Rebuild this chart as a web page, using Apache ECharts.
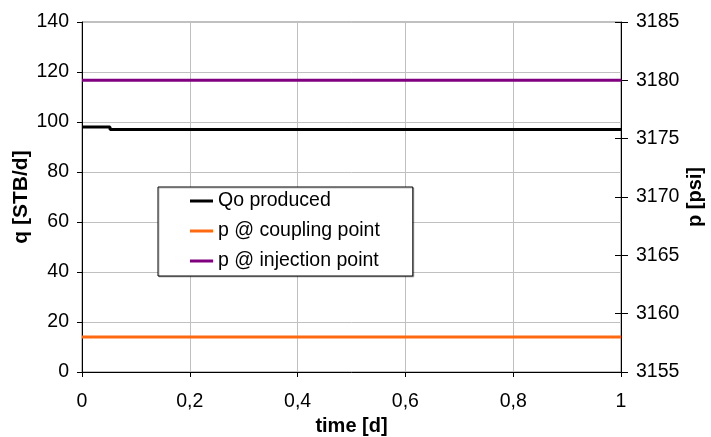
<!DOCTYPE html>
<html>
<head>
<meta charset="utf-8">
<script src="https://cdn.jsdelivr.net/npm/echarts@6/dist/echarts.min.js"></script>
<style>
  html, body { margin: 0; padding: 0; background: #fff; }
  #chart { width: 711px; height: 437px; }
</style>
</head>
<body>
<div id="chart"></div>
<script>
// Time axis [d]
const timeTicks = [0, 0.2, 0.4, 0.6, 0.8, 1];

// Oil rate produced [STB/d] – small step down early on
const qoTime = [0, 0.052, 0.052, 1];
const qoRate = [98, 98, 97, 97];

// Pressures [psi]
const pCouplingTime = [0, 1];
const pCoupling = [3158, 3158];
const pInjectionTime = [0, 1];
const pInjection = [3180, 3180];

const zip = (xs, ys) => xs.map((x, i) => [x, ys[i]]);

const FONT = 'Liberation Sans, Arial, sans-serif';
const chart = echarts.init(document.getElementById('chart'), null, { renderer: 'canvas' });

const axisText = { color: '#000', fontFamily: FONT, fontSize: 19.5 };
const titleText = { color: '#000', fontFamily: FONT, fontSize: 20, fontWeight: 'bold' };

chart.setOption({
  animation: false,
  backgroundColor: '#fff',
  grid: {
    left: 82, right: 90, top: 22, bottom: 65,
    containLabel: false, outerBoundsMode: 'none',
    show: true, borderColor: '#808080', borderWidth: 1
  },
  legend: {
    orient: 'vertical',
    left: 158, top: 187,
    padding: [4, 33, 5, 32],
    itemGap: 10,
    itemWidth: 23, itemHeight: 3,
    icon: 'rect',
    borderColor: '#000', borderWidth: 1,
    backgroundColor: '#fff',
    shadowColor: 'rgba(0,0,0,0.25)', shadowOffsetX: 1, shadowOffsetY: 1,
    textStyle: { color: '#000', fontFamily: FONT, fontSize: 19.5, lineHeight: 20 },
    data: ['Qo produced', 'p @ coupling point', 'p @ injection point']
  },
  xAxis: {
    type: 'value', min: 0, max: 1, interval: 0.2,
    name: 'time [d]', nameLocation: 'middle', nameGap: 44, nameMoveOverlap: false,
    nameTextStyle: titleText,
    axisLine: { lineStyle: { color: '#000', width: 1 } },
    axisTick: { show: true, length: 5, lineStyle: { color: '#000' } },
    axisLabel: Object.assign({ margin: 20, formatter: v => String(v).replace('.', ',') }, axisText),
    splitLine: { show: true, lineStyle: { color: '#c0c0c0', width: 1 } }
  },
  yAxis: [
    {
      type: 'value', min: 0, max: 140, interval: 20, position: 'left',
      name: 'q [STB/d]', nameLocation: 'middle', nameGap: 50, nameRotate: 90, nameMoveOverlap: false,
      nameTextStyle: Object.assign({}, titleText, { fontSize: 21 }),
      axisLine: { show: true, lineStyle: { color: '#000', width: 1 } },
      axisTick: { show: true, length: 5, lineStyle: { color: '#000' } },
      axisLabel: Object.assign({ margin: 13 }, axisText),
      splitLine: { show: true, lineStyle: { color: '#c0c0c0', width: 1 } }
    },
    {
      type: 'value', min: 3155, max: 3185, interval: 5, position: 'right',
      name: 'p [psi]', nameLocation: 'middle', nameGap: 64, nameRotate: 90, nameMoveOverlap: false,
      nameTextStyle: titleText,
      axisLine: { show: true, lineStyle: { color: '#000', width: 1 } },
      axisTick: { show: true, length: 7, lineStyle: { color: '#000' } },
      axisLabel: Object.assign({ margin: 15, formatter: v => String(v) }, axisText),
      splitLine: { show: false }
    },
    {
      // inner half of the crossing ticks on the pressure axis
      type: 'value', min: 3155, max: 3185, interval: 5, position: 'right',
      axisLine: { show: false },
      axisTick: { show: true, inside: true, length: 6, lineStyle: { color: '#000' } },
      axisLabel: { show: false },
      splitLine: { show: false }
    }
  ],
  series: [
    {
      name: 'Qo produced', type: 'line', yAxisIndex: 0,
      data: zip(qoTime, qoRate), showSymbol: false,
      lineStyle: { color: '#000', width: 3 }, itemStyle: { color: '#000' }, z: 3
    },
    {
      name: 'p @ coupling point', type: 'line', yAxisIndex: 1,
      data: zip(pCouplingTime, pCoupling), showSymbol: false,
      lineStyle: { color: '#ff6a10', width: 3 }, itemStyle: { color: '#ff6a10' }, z: 3
    },
    {
      name: 'p @ injection point', type: 'line', yAxisIndex: 1,
      data: zip(pInjectionTime, pInjection), showSymbol: false,
      lineStyle: { color: '#800080', width: 3 }, itemStyle: { color: '#800080' }, z: 3
    }
  ]
});
</script>
</body>
</html>
